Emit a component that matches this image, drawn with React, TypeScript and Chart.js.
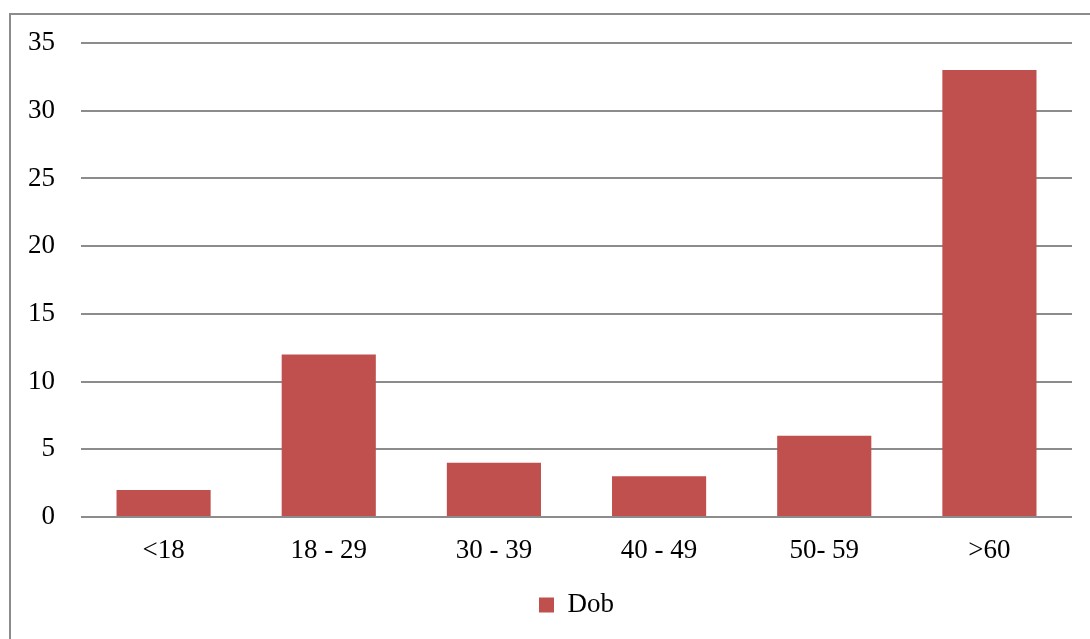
import React, { useEffect, useRef } from "react";
import { Chart, registerables } from "chart.js";

Chart.register(...registerables);

const categories: string[] = ["<18", "18 - 29", "30 - 39", "40 - 49", "50- 59", ">60"];
const dobValues: number[] = [2, 12, 4, 3, 6, 33];
const seriesLabel = "Dob";
const yMax = 35;
const yStep = 5;

const FONT = "'Liberation Serif', 'Times New Roman', serif";
const GRID = "#8c8c8c";
const BAR = "#C0504D";

export default function App() {
  const ref = useRef<HTMLCanvasElement | null>(null);

  useEffect(() => {
    if (!ref.current) return;
    const chart = new Chart(ref.current, {
      type: "bar",
      data: {
        labels: categories,
        datasets: [
          {
            label: seriesLabel,
            data: dobValues,
            backgroundColor: BAR,
            borderWidth: 0,
            categoryPercentage: 1,
            barPercentage: 0.57,
          },
        ],
      },
      options: {
        animation: false,
        responsive: false,
        maintainAspectRatio: false,
        layout: { padding: { top: 43, left: 10, right: 18, bottom: 10.5 } },
        plugins: {
          tooltip: { enabled: false },
          legend: {
            position: "bottom",
            fullSize: false,
            labels: {
              boxWidth: 15,
              boxHeight: 15,
              padding: 10,
              color: "#000",
              font: { family: FONT, size: 27 },
            },
          },
        },
        scales: {
          x: {
            grid: { display: false, drawTicks: false },
            border: { display: false },
            ticks: {
              color: "#000",
              padding: 18,
              font: { family: FONT, size: 27 },
              maxRotation: 0,
            },
            afterFit: (s: any) => {
              s.height = 64.5;
            },
          },
          y: {
            min: 0,
            max: yMax,
            grid: { color: GRID, lineWidth: 2, drawTicks: false },
            border: { display: false },
            ticks: {
              stepSize: yStep,
              color: "#000",
              padding: 26,
              font: { family: FONT, size: 27 },
            },
            afterFit: (s: any) => {
              s.width = 71;
            },
          },
        },
      },
    });
    return () => chart.destroy();
  }, []);

  return (
    <div
      style={{
        position: "fixed",
        left: 0,
        top: 0,
        width: 1090,
        height: 639,
        overflow: "hidden",
        background: "#fff",
      }}
    >
      <div
        style={{
          position: "absolute",
          left: 9,
          top: 13,
          width: 1200,
          height: 800,
          borderTop: "2px solid #8c8c8c",
          borderLeft: "2px solid #8c8c8c",
        }}
      />
      <canvas
        ref={ref}
        width={1090}
        height={639}
        style={{ position: "absolute", left: 0, top: 0, width: 1090, height: 639 }}
      />
    </div>
  );
}
